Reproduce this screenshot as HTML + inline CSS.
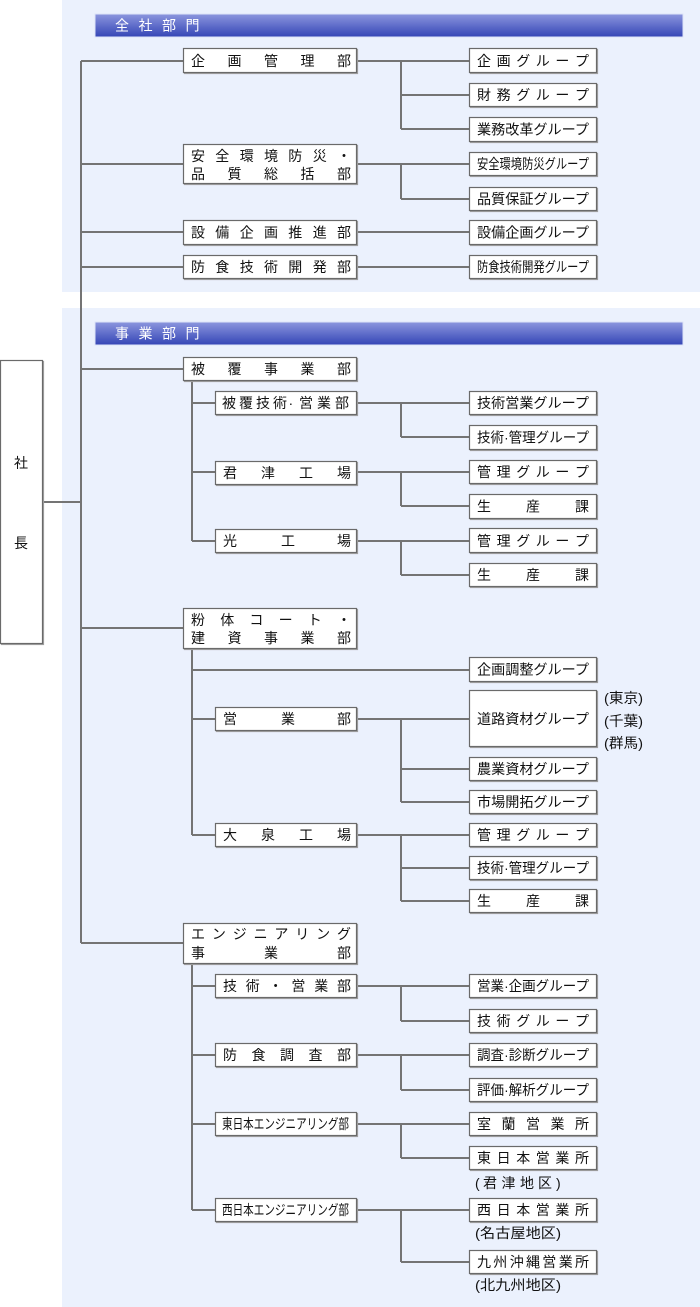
<!DOCTYPE html>
<html lang="ja">
<head>
<meta charset="utf-8">
<style>
html,body{margin:0;padding:0;background:#fff;}
svg{display:block;}
text{font-family:"Liberation Sans","Noto Sans CJK JP",sans-serif;font-size:14px;fill:#111;}
.b{fill:#fff;stroke:#6a6a6a;stroke-width:1.2;filter:drop-shadow(1px 1px 0 #a0a0a0);}
.l{stroke:#747474;stroke-width:2;fill:none;}
.h{fill:#fff;font-size:14px;}
.c{font-size:14px;}
.m{font-size:14px;}
</style>
</head>
<body>
<svg width="700" height="1307" viewBox="0 0 700 1307" xmlns="http://www.w3.org/2000/svg">
<defs>
<linearGradient id="hg" x1="0" y1="0" x2="0" y2="1">
<stop offset="0" stop-color="#8c96de"/>
<stop offset="1" stop-color="#3445b6"/>
</linearGradient>
</defs>

<!-- panels -->
<rect x="62" y="0" width="638" height="292" fill="#ebf1fd"/>
<rect x="62" y="308" width="638" height="999" fill="#ebf1fd"/>

<!-- headers -->
<rect x="95" y="14" width="588" height="23" fill="url(#hg)" stroke="#dde4f8" stroke-width="1"/>
<text class="h" x="115 138.5 162 185.5" y="30.5">全社部門</text>
<rect x="95" y="322" width="588" height="23" fill="url(#hg)" stroke="#dde4f8" stroke-width="1"/>
<text class="h" x="115 138.5 162 185.5" y="338.5">事業部門</text>

<!-- connector lines -->
<path class="l" d="M81 61 V943"/>
<path class="l" d="M43 502 H81"/>
<path class="l" d="M81 61 H183 M81 164 H183 M81 232 H183 M81 267 H183 M81 369 H183 M81 628 H183 M81 943 H183"/>
<path class="l" d="M357 61 H469 M357 164 H469 M357 232 H469 M357 267 H469 M357 403 H469 M357 472 H469 M357 541 H469 M357 719 H469 M357 835 H469 M357 986 H469 M357 1055 H469 M357 1124 H469 M357 1210 H469"/>
<path class="l" d="M401 61 V129 M401 164 V199 M401 403 V437 M401 472 V506 M401 541 V575 M401 719 V802 M401 835 V901 M401 986 V1021 M401 1055 V1090 M401 1124 V1158 M401 1210 V1262"/>
<path class="l" d="M401 95 H469 M401 129 H469 M401 199 H469 M401 437 H469 M401 506 H469 M401 575 H469 M401 769 H469 M401 802 H469 M401 868 H469 M401 901 H469 M401 1021 H469 M401 1090 H469 M401 1158 H469 M401 1262 H469"/>
<path class="l" d="M192 381 V541 M192 649 V835 M192 964 V1210"/>
<path class="l" d="M192 403 H215 M192 472 H215 M192 541 H215 M192 719 H215 M192 835 H215 M192 986 H215 M192 1055 H215 M192 1124 H215 M192 1210 H215 M192 670 H469"/>

<!-- 社長 -->
<rect class="b" x="0.5" y="360.5" width="42" height="283"/>
<text x="21" y="468" text-anchor="middle">社</text>
<text x="21" y="548" text-anchor="middle">長</text>

<!-- level 1 boxes -->
<rect class="b" x="183.5" y="48.5" width="173" height="24"/>
<text x="191 227.5 264 300.5 337" y="66">企画管理部</text>

<rect class="b" x="183.5" y="144.5" width="173" height="39"/>
<text x="191 215.3 239.7 264 288.3 312.7 337" y="161">安全環境防災・</text>
<text x="191 227.5 264 300.5 337" y="179">品質総括部</text>

<rect class="b" x="183.5" y="220.5" width="173" height="24"/>
<text x="191 215.3 239.7 264 288.3 312.7 337" y="237.5">設備企画推進部</text>

<rect class="b" x="183.5" y="255.5" width="173" height="23"/>
<text x="191 215.3 239.7 264 288.3 312.7 337" y="272">防食技術開発部</text>

<rect class="b" x="183.5" y="357.5" width="173" height="23"/>
<text x="191 227.5 264 300.5 337" y="374">被覆事業部</text>

<rect class="b" x="183.5" y="608.5" width="173" height="40"/>
<text x="191 220.2 249.4 278.6 307.8 337" y="625">粉体コート・</text>
<text x="191 227.5 264 300.5 337" y="643">建資事業部</text>

<rect class="b" x="183.5" y="923.5" width="173" height="40"/>
<text x="191 211.9 232.7 253.6 274.4 295.3 316.1 337" y="939">エンジニアリング</text>
<text x="191 264 337" y="958">事業部</text>

<!-- sub boxes -->
<rect class="b" x="215.5" y="391.5" width="141" height="23"/>
<text x="222 239 256 273 288.5 299 317 335" y="408">被覆技術·営業部</text>

<rect class="b" x="215.5" y="461.5" width="141" height="23"/>
<text x="223 261 299 337" y="478">君津工場</text>

<rect class="b" x="215.5" y="529.5" width="141" height="23"/>
<text x="223 281 337" y="546">光工場</text>

<rect class="b" x="215.5" y="707.5" width="141" height="23"/>
<text x="223 281 337" y="724">営業部</text>

<rect class="b" x="215.5" y="823.5" width="141" height="23"/>
<text x="223 261 299 337" y="840">大泉工場</text>

<rect class="b" x="215.5" y="974.5" width="141" height="23"/>
<text x="223 245.8 268.6 291.4 314.2 337" y="991">技術・営業部</text>

<rect class="b" x="215.5" y="1043.5" width="141" height="23"/>
<text x="223 251.5 280 308.5 337" y="1060">防食調査部</text>

<rect class="b" x="215.5" y="1112.5" width="141" height="23"/>
<text class="c" x="222" y="1129" textLength="127" lengthAdjust="spacingAndGlyphs">東日本エンジニアリング部</text>

<rect class="b" x="215.5" y="1198.5" width="141" height="23"/>
<text class="c" x="222" y="1215" textLength="127" lengthAdjust="spacingAndGlyphs">西日本エンジニアリング部</text>

<!-- group boxes: panel 1 -->
<rect class="b" x="469.5" y="48.5" width="127" height="24"/>
<text x="477 496.6 516.2 535.8 555.4 575" y="66">企画グループ</text>

<rect class="b" x="469.5" y="83.5" width="127" height="23"/>
<text x="477 496.6 516.2 535.8 555.4 575" y="100">財務グループ</text>

<rect class="b" x="469.5" y="117.5" width="127" height="24"/>
<text x="477" y="134.5" textLength="112" lengthAdjust="spacingAndGlyphs">業務改革グループ</text>

<rect class="b" x="469.5" y="152.5" width="127" height="23"/>
<text class="c" x="477" y="169" textLength="112" lengthAdjust="spacingAndGlyphs">安全環境防災グループ</text>

<rect class="b" x="469.5" y="187.5" width="127" height="23"/>
<text x="477" y="204" textLength="112" lengthAdjust="spacingAndGlyphs">品質保証グループ</text>

<rect class="b" x="469.5" y="220.5" width="127" height="24"/>
<text x="477" y="237.5" textLength="112" lengthAdjust="spacingAndGlyphs">設備企画グループ</text>

<rect class="b" x="469.5" y="255.5" width="127" height="23"/>
<text class="c" x="477" y="272" textLength="112" lengthAdjust="spacingAndGlyphs">防食技術開発グループ</text>

<!-- group boxes: 被覆 -->
<rect class="b" x="469.5" y="391.5" width="127" height="23"/>
<text x="477" y="408" textLength="112" lengthAdjust="spacingAndGlyphs">技術営業グループ</text>

<rect class="b" x="469.5" y="425.5" width="127" height="24"/>
<text class="m" x="477" y="442.5" textLength="112" lengthAdjust="spacingAndGlyphs">技術·管理グループ</text>

<rect class="b" x="469.5" y="460.5" width="127" height="23"/>
<text x="477 496.6 516.2 535.8 555.4 575" y="477">管理グループ</text>

<rect class="b" x="469.5" y="494.5" width="127" height="24"/>
<text x="477 526 575" y="511.5">生産課</text>

<rect class="b" x="469.5" y="528.5" width="127" height="24"/>
<text x="477 496.6 516.2 535.8 555.4 575" y="546">管理グループ</text>

<rect class="b" x="469.5" y="563.5" width="127" height="23"/>
<text x="477 526 575" y="580">生産課</text>

<!-- group boxes: 粉体 -->
<rect class="b" x="469.5" y="657.5" width="127" height="24"/>
<text x="477" y="674.5" textLength="112" lengthAdjust="spacingAndGlyphs">企画調整グループ</text>

<rect class="b" x="469.5" y="690.5" width="127" height="56"/>
<text x="477" y="724" textLength="112" lengthAdjust="spacingAndGlyphs">道路資材グループ</text>
<text x="604" y="703" textLength="39" lengthAdjust="spacingAndGlyphs">(東京)</text>
<text x="604" y="726" textLength="39" lengthAdjust="spacingAndGlyphs">(千葉)</text>
<text x="604" y="748" textLength="39" lengthAdjust="spacingAndGlyphs">(群馬)</text>

<rect class="b" x="469.5" y="757.5" width="127" height="23"/>
<text x="477" y="774" textLength="112" lengthAdjust="spacingAndGlyphs">農業資材グループ</text>

<rect class="b" x="469.5" y="790.5" width="127" height="23"/>
<text x="477" y="807" textLength="112" lengthAdjust="spacingAndGlyphs">市場開拓グループ</text>

<rect class="b" x="469.5" y="823.5" width="127" height="23"/>
<text x="477 496.6 516.2 535.8 555.4 575" y="840">管理グループ</text>

<rect class="b" x="469.5" y="856.5" width="127" height="23"/>
<text class="m" x="477" y="873" textLength="112" lengthAdjust="spacingAndGlyphs">技術·管理グループ</text>

<rect class="b" x="469.5" y="889.5" width="127" height="23"/>
<text x="477 526 575" y="906">生産課</text>

<!-- group boxes: エンジニアリング -->
<rect class="b" x="469.5" y="974.5" width="127" height="23"/>
<text class="m" x="477" y="991" textLength="112" lengthAdjust="spacingAndGlyphs">営業·企画グループ</text>

<rect class="b" x="469.5" y="1009.5" width="127" height="23"/>
<text x="477 496.6 516.2 535.8 555.4 575" y="1026">技術グループ</text>

<rect class="b" x="469.5" y="1043.5" width="127" height="23"/>
<text class="m" x="477" y="1060" textLength="112" lengthAdjust="spacingAndGlyphs">調査·診断グループ</text>

<rect class="b" x="469.5" y="1078.5" width="127" height="23"/>
<text class="m" x="477" y="1095" textLength="112" lengthAdjust="spacingAndGlyphs">評価·解析グループ</text>

<rect class="b" x="469.5" y="1112.5" width="127" height="23"/>
<text x="477 501.5 526 550.5 575" y="1129">室蘭営業所</text>

<rect class="b" x="469.5" y="1146.5" width="127" height="23"/>
<text x="477 496.6 516.2 535.8 555.4 575" y="1163">東日本営業所</text>
<text x="475 483 501.5 520 538 556" y="1188">(君津地区)</text>

<rect class="b" x="469.5" y="1198.5" width="127" height="23"/>
<text x="477 496.6 516.2 535.8 555.4 575" y="1215">西日本営業所</text>
<text x="475" y="1238" textLength="86" lengthAdjust="spacingAndGlyphs">(名古屋地区)</text>

<rect class="b" x="469.5" y="1250.5" width="127" height="23"/>
<text x="477 493.3 509.7 526 542.3 558.7 575" y="1267">九州沖縄営業所</text>
<text x="475" y="1290" textLength="86" lengthAdjust="spacingAndGlyphs">(北九州地区)</text>
</svg>
</body>
</html>
